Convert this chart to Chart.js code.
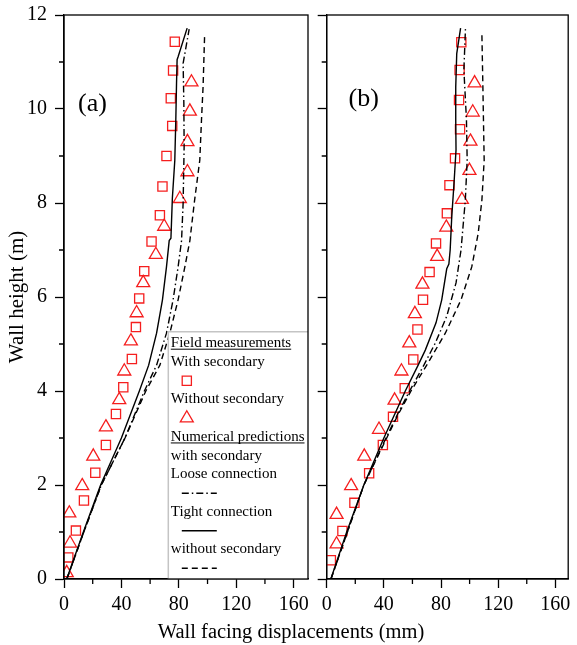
<!DOCTYPE html>
<html><head><meta charset="utf-8">
<script src="https://cdn.jsdelivr.net/npm/chart.js@4/dist/chart.umd.min.js"></script>
<style>
html,body{margin:0;padding:0;background:#fff;}
#wrap{position:relative;width:577px;height:645px;overflow:hidden;font-family:"Liberation Serif","Times New Roman",serif;}
#boxA{position:absolute;left:0;top:0;width:320px;height:645px;}
#boxB{position:absolute;left:308px;top:0;width:269px;height:645px;}
#xtitle{position:absolute;left:0;width:582px;top:619px;text-align:center;font-size:20.5px;line-height:24px;color:#000;}
</style></head><body>
<div id="wrap">
<div id="boxB"><canvas id="cB"></canvas></div>
<div id="boxA"><canvas id="cA"></canvas></div>
<div id="xtitle">Wall facing displacements (mm)</div>
</div>
<script>
// ---------- tick values ----------
const xMajorTicks = [0, 40, 80, 120, 160];
const xMinorTicks = [20, 60, 100, 140];
const yMajorTicks = [0, 2, 4, 6, 8, 10, 12];
const yMinorTicks = [1, 3, 5, 7, 9, 11];
const panelLabels = ['(a)', '(b)'];

// ---------- panel (a): field measurements ----------
const sqA_h = [11.43, 10.82, 10.23, 9.64, 9.0, 8.35, 7.74, 7.18, 6.55, 5.97, 5.36, 4.68, 4.08, 3.51, 2.85, 2.26, 1.67, 1.03, 0.46];
const sqA_d = [77.2, 76.0, 74.4, 75.4, 71.4, 68.6, 66.8, 61.0, 55.9, 52.4, 50.1, 47.3, 41.3, 36.2, 29.2, 21.8, 13.9, 8.3, 3.0];
const triA_h = [10.57, 9.95, 9.3, 8.66, 8.09, 7.5, 6.9, 6.3, 5.66, 5.06, 4.42, 3.81, 3.23, 2.61, 1.98, 1.4, 0.76, 0.13];
const triA_d = [88.8, 87.7, 86.0, 86.0, 80.7, 69.8, 64.0, 55.2, 50.6, 46.6, 42.0, 38.5, 29.2, 20.4, 12.7, 3.7, 4.2, 1.9];
// ---------- panel (a): numerical predictions ----------
const looseA_h = [0, 1, 2, 3, 4, 4.55, 5.23, 5.94, 6.64, 7.2, 8.0, 9.2, 10.12, 10.97, 11.7];
const looseA_d = [2.0, 13.8, 26.0, 42.5, 56.0, 64.5, 71.4, 76.0, 79.5, 81.9, 83.0, 83.7, 83.5, 83.0, 87.2];
const tightA_h = [0, 1, 2, 3, 4, 4.55, 5.23, 5.94, 6.64, 7.2, 7.25, 8.1, 8.91, 9.77, 10.55, 11.05, 11.11, 11.72];
const tightA_d = [1.9, 13.5, 25.5, 40.0, 52.5, 59.0, 64.5, 68.6, 71.4, 73.3, 74.5, 75.5, 77.2, 77.9, 78.4, 78.8, 79.5, 85.8];
const noSecA_h = [0, 1, 2, 3, 4, 4.55, 5.23, 5.94, 6.64, 7.2, 8.06, 8.91, 9.77, 10.47, 11.6];
const noSecA_d = [2.0, 13.8, 26.0, 42.5, 57.0, 66.8, 73.7, 79.5, 84.2, 87.7, 91.0, 94.6, 95.8, 96.9, 98.0];

// ---------- panel (b): field measurements ----------
const sqB_h = [11.42, 10.83, 10.19, 9.57, 8.95, 8.38, 7.78, 7.14, 6.53, 5.94, 5.31, 4.67, 4.06, 3.45, 2.85, 2.25, 1.62, 1.02, 0.4];
const sqB_d = [94.2, 93.0, 92.6, 93.3, 89.8, 85.9, 84.1, 76.5, 72.0, 67.4, 63.5, 60.6, 54.6, 46.4, 39.3, 29.7, 19.4, 11.0, 2.9];
const triB_h = [10.55, 9.93, 9.31, 8.69, 8.07, 7.48, 6.86, 6.27, 5.64, 5.02, 4.42, 3.8, 3.18, 2.61, 1.98, 1.37, 0.74];
const triB_d = [103.5, 102.2, 100.6, 99.9, 94.6, 83.7, 77.3, 67.0, 61.7, 57.8, 52.3, 47.5, 36.6, 26.3, 17.1, 6.9, 6.9];
// ---------- panel (b): numerical predictions ----------
const looseB_h = [0, 1, 2, 3, 3.5, 4, 4.55, 5.02, 5.59, 6.3, 7.0, 8.06, 8.91, 9.77, 10.83, 11.7];
const looseB_d = [3.0, 14.5, 26.0, 41.5, 49.5, 58.0, 68.0, 76.0, 84.0, 90.5, 94.0, 97.0, 98.3, 97.8, 96.0, 97.1];
const tightB_h = [0, 1, 2, 3, 4, 4.55, 4.87, 5.45, 5.94, 6.6, 6.7, 7.0, 7.7, 8.42, 9.13, 9.77, 10.47, 11.18, 11.72];
const tightB_d = [2.9, 14.0, 26.0, 40.0, 55.0, 64.0, 69.0, 76.5, 80.5, 84.0, 85.5, 86.4, 87.5, 89.1, 90.5, 90.3, 90.3, 91.0, 93.7];
const noSecB_h = [0, 1, 2, 3, 3.5, 4, 4.55, 5.23, 5.94, 6.64, 7.35, 8.06, 8.91, 9.77, 10.47, 11.6];
const noSecB_d = [3.0, 14.5, 26.0, 42.0, 50.0, 59.0, 70.0, 83.0, 94.0, 101.5, 106.0, 108.6, 110.2, 109.7, 109.3, 108.6];

// ---------- labels ----------
const legendHeadings = ['Field measurements', 'Numerical predictions', 'with secondary'];
const seriesLabels = ['With secondary', 'Without secondary', 'Loose connection', 'Tight connection', 'without secondary'];

const FONT = "'Liberation Serif','Times New Roman',serif";
const RED = 'rgb(245,30,30)';
Chart.defaults.font.family = FONT;
Chart.defaults.color = '#000';

function pts(xs, ys) { return xs.map((x, i) => ({ x: x, y: ys[i] })); }

const decor = {
  id: 'decor',
  afterDraw(chart, args, o) {
    const ctx = chart.ctx, ca = chart.chartArea;
    const xs = chart.scales.x, ys = chart.scales.y;
    ctx.save();
    // legend
    if (o.legend) {
      const L = ca.right - 139.7, T = ca.top + 316.7, B = ca.bottom;
      ctx.fillStyle = '#fff';
      ctx.fillRect(L, T, ca.right - L, B - T);
      ctx.strokeStyle = '#c4c4c4'; ctx.lineWidth = 1.5;
      ctx.beginPath(); ctx.moveTo(L, B); ctx.lineTo(L, T); ctx.lineTo(ca.right, T); ctx.stroke();
      const ds = chart.data.datasets;
      const rows = [
        { h: legendHeadings[0], u: true },
        { t: ds[3].label }, { s: 3 },
        { t: ds[4].label }, { s: 4 },
        { h: legendHeadings[1], u: true },
        { t: legendHeadings[2] },
        { t: ds[0].label }, { s: 0 },
        { t: ds[1].label }, { s: 1 },
        { t: ds[2].label }, { s: 2 }
      ];
      ctx.font = '15px ' + FONT;
      ctx.textBaseline = 'middle'; ctx.textAlign = 'left';
      rows.forEach((r, i) => {
        const y = T + 11.5 + i * 18.75;
        const tx = L + 2.5;
        if (r.h || r.t) {
          const txt = r.h || r.t;
          ctx.fillStyle = '#000';
          ctx.fillText(txt, tx, y);
          if (r.u) {
            const w = ctx.measureText(txt).width;
            ctx.strokeStyle = '#000'; ctx.lineWidth = 1; ctx.setLineDash([]);
            ctx.beginPath(); ctx.moveTo(tx, y + 6); ctx.lineTo(tx + w, y + 6); ctx.stroke();
          }
        } else {
          const d = ds[r.s];
          if (d.showLine) {
            ctx.strokeStyle = d.borderColor; ctx.lineWidth = d.borderWidth;
            ctx.setLineDash(d.borderDash || []);
            ctx.beginPath(); ctx.moveTo(L + 13.5, y); ctx.lineTo(L + 48.5, y); ctx.stroke();
            ctx.setLineDash([]);
          } else {
            ctx.save();
            ctx.fillStyle = 'rgba(0,0,0,0)';
            ctx.strokeStyle = d.pointBorderColor;
            ctx.lineWidth = d.pointBorderWidth;
            Chart.helpers.drawPoint(ctx, {
              pointStyle: d.pointStyle, radius: d.pointRadius, borderWidth: d.pointBorderWidth, rotation: 0
            }, L + 18.5, y);
            ctx.restore();
          }
        }
      });
    }
    // frame
    ctx.strokeStyle = '#000'; ctx.lineWidth = 1.3; ctx.setLineDash([]);
    ctx.strokeRect(ca.left, ca.top, ca.right - ca.left, ca.bottom - ca.top);
    // minor ticks
    ctx.beginPath();
    xMinorTicks.forEach(v => { const p = xs.getPixelForValue(v); ctx.moveTo(p, ca.bottom); ctx.lineTo(p, ca.bottom + 5); });
    yMinorTicks.forEach(v => { const p = ys.getPixelForValue(v); ctx.moveTo(ca.left - 5, p); ctx.lineTo(ca.left, p); });
    ctx.stroke();
    // panel label
    ctx.font = '26px ' + FONT; ctx.fillStyle = '#000';
    ctx.textAlign = 'center'; ctx.textBaseline = 'middle';
    ctx.fillText(o.label, ca.left + o.lx, ca.top + o.ly);
    ctx.restore();
  }
};

function makeChart(id, d, cfg) {
  const lineDs = (label, data, dash) => ({
    label, data, showLine: true, borderColor: '#000', backgroundColor: '#000',
    borderWidth: 1.4, borderDash: dash, pointRadius: 0, fill: false, tension: 0
  });
  const ptDs = (label, data, style, r) => ({
    label, data, showLine: false, pointStyle: style, pointRadius: r,
    borderColor: RED, backgroundColor: 'rgba(0,0,0,0)', pointBorderColor: RED,
    pointBackgroundColor: 'rgba(0,0,0,0)', pointBorderWidth: 1.3
  });
  return new Chart(document.getElementById(id), {
    type: 'scatter',
    data: { datasets: [
      lineDs(seriesLabels[2], pts(d.looseD, d.looseH), [7, 3, 1.5, 3]),
      lineDs(seriesLabels[3], pts(d.tightD, d.tightH), []),
      lineDs(seriesLabels[4], pts(d.noD, d.noH), [6, 4]),
      ptDs(seriesLabels[0], pts(d.sqD, d.sqH), 'rect', 6.5),
      ptDs(seriesLabels[1], pts(d.triD, d.triH), 'triangle', 7.5)
    ]},
    options: {
      responsive: true, maintainAspectRatio: false, animation: false, events: [],
      layout: { padding: { top: 15, right: cfg.padRight, bottom: 0, left: 0 } },
      plugins: {
        legend: { display: false }, tooltip: { enabled: false },
        decor: { legend: cfg.legend, label: cfg.label, lx: cfg.lx, ly: cfg.ly }
      },
      scales: {
        x: {
          type: 'linear', min: 0, max: cfg.xmax,
          afterBuildTicks: s => { s.ticks = xMajorTicks.map(v => ({ value: v })); },
          ticks: { font: { size: 20 }, color: '#000', padding: 5, maxRotation: 0, autoSkip: false },
          grid: { drawOnChartArea: false, drawTicks: true, tickLength: 9, tickColor: '#000', tickWidth: 1.3 },
          border: { color: '#000', width: 1.3 },
          afterFit: s => { s.height = 66; s.paddingLeft = 0; s.paddingRight = 0; }
        },
        y: {
          type: 'linear', min: 0, max: 12,
          afterBuildTicks: s => { s.ticks = yMajorTicks.map(v => ({ value: v })); },
          ticks: { display: cfg.yLabels, font: { size: 20 }, color: '#000', padding: 8, autoSkip: false },
          grid: { drawOnChartArea: false, drawTicks: true, tickLength: 9, tickColor: '#000', tickWidth: 1.3 },
          border: { color: '#000', width: 1.3 },
          title: { display: cfg.yLabels, text: 'Wall height (m)', font: { size: 21 }, color: '#000', padding: { top: 5, bottom: 0 } },
          afterFit: s => { s.width = cfg.yWidth; s.paddingTop = 0; s.paddingBottom = 0; }
        }
      }
    },
    plugins: [decor]
  });
}

makeChart('cA', {
  looseH: looseA_h, looseD: looseA_d, tightH: tightA_h, tightD: tightA_d,
  noH: noSecA_h, noD: noSecA_d, sqH: sqA_h, sqD: sqA_d, triH: triA_h, triD: triA_d
}, { padRight: 12, xmax: 170, yLabels: true, yWidth: 64, legend: true, label: panelLabels[0], lx: 28.5, ly: 89 });

makeChart('cB', {
  looseH: looseB_h, looseD: looseB_d, tightH: tightB_h, tightD: tightB_d,
  noH: noSecB_h, noD: noSecB_d, sqH: sqB_h, sqD: sqB_d, triH: triB_h, triD: triB_d
}, { padRight: 4, xmax: 169, yLabels: false, yWidth: 18.7, legend: false, label: panelLabels[1], lx: 37, ly: 84 });
</script>
</body></html>
